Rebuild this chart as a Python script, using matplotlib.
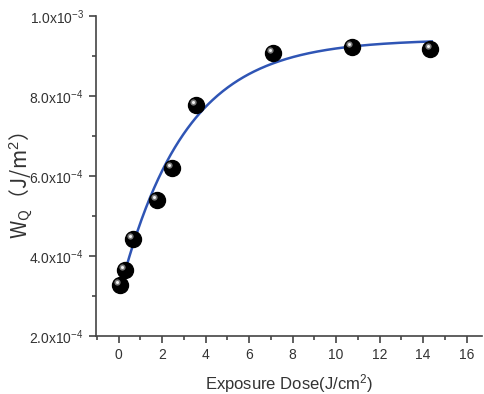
import numpy as np
import matplotlib
matplotlib.use("Agg")
import matplotlib.pyplot as plt
from matplotlib.ticker import FixedLocator, MultipleLocator
import matplotlib.transforms as mtransforms

plt.rcParams['font.family'] = ['Liberation Sans', 'DejaVu Sans']
plt.rcParams['mathtext.fontset'] = 'custom'
plt.rcParams['mathtext.rm'] = 'Liberation Sans'
plt.rcParams['mathtext.it'] = 'Liberation Sans:italic'

dose = [0.05, 0.28, 0.65, 1.75, 2.44, 3.55, 7.1, 10.74, 14.33]
wq = [3.28e-4, 3.65e-4, 4.43e-4, 5.4e-4, 6.2e-4, 7.78e-4, 9.08e-4, 9.23e-4, 9.18e-4]

# exponential fit parameters
fit_A = 9.42e-4
fit_B = 6.4e-4
fit_t = 3.0
fit_range = (0.1, 14.4)

ytick_vals = [2e-4, 4e-4, 6e-4, 8e-4, 1e-3]
ytick_labels = [r'$\mathregular{2.0x10^{-4}}$', r'$\mathregular{4.0x10^{-4}}$',
                r'$\mathregular{6.0x10^{-4}}$', r'$\mathregular{8.0x10^{-4}}$',
                r'$\mathregular{1.0x10^{-3}}$']
xtick_vals = [0, 2, 4, 6, 8, 10, 12, 14, 16]

fig = plt.figure(figsize=(4.84, 3.94), dpi=100)
ax = fig.add_axes([0.198, 0.147, 0.7975, 0.812])

xf = np.linspace(fit_range[0], fit_range[1], 300)
yf = fit_A - fit_B * np.exp(-xf / fit_t)
ax.plot(xf, yf, color='#2f55b5', lw=1.8, zorder=2)

ax.plot(dose, wq, 'o', ms=11.5, color='black', mec='black', zorder=3)
hl = mtransforms.offset_copy(ax.transData, fig=fig, x=-2.0, y=2.0, units='points')
ax.plot(dose, wq, 'o', ms=4.5, color='#9a9a9a', mec='none', alpha=0.8, transform=hl, zorder=4)
ax.plot(dose, wq, 'o', ms=2.2, color='#f0f0f0', mec='none', transform=hl, zorder=5)

ax.set_xlim(-1.05, 16.7)
ax.set_ylim(2e-4, 1e-3)
ax.set_yticks(ytick_vals)
ax.set_yticklabels(ytick_labels)
ax.yaxis.set_minor_locator(FixedLocator([3e-4, 5e-4, 7e-4, 9e-4]))
ax.set_xticks(xtick_vals)
ax.xaxis.set_minor_locator(MultipleLocator(1))

for s in ['top', 'right']:
    ax.spines[s].set_visible(False)
for s in ['left', 'bottom']:
    ax.spines[s].set_color('#444444')
    ax.spines[s].set_linewidth(1.2)
ax.tick_params(which='both', direction='out', color='#444444', width=1.2)
ax.tick_params(which='major', length=5, labelsize=10, labelcolor='#333333')
ax.tick_params(which='minor', length=3)

ax.set_xlabel(r'Exposure Dose(J/cm$^2$)', fontsize=12, color='#333333', labelpad=7)
ax.set_ylabel(r'W$_\mathregular{Q}$（J/m$^2$）', fontsize=15, color='#333333',
              family=['Noto Sans CJK SC', 'Liberation Sans'])
ax.yaxis.set_label_coords(-0.16, 0.47)

fig.savefig('out.png', dpi=100)
